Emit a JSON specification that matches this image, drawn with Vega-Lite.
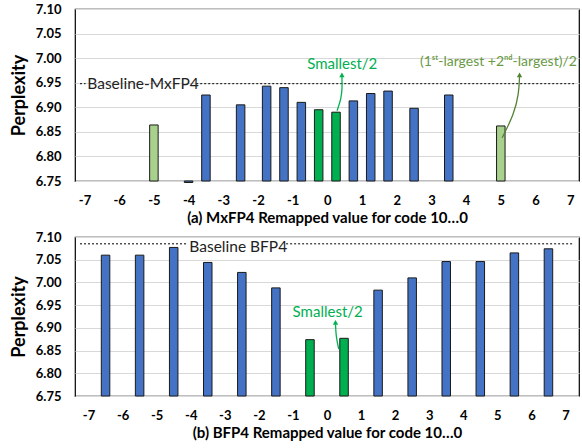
{
  "$schema": "https://vega.github.io/schema/vega-lite/v6.json",
  "padding": {"left": 9, "top": 2, "right": 0, "bottom": 0},
  "spacing": 4,
  "config": {
    "font": "Lato",
    "view": {"stroke": "#000", "strokeWidth": 1.2},
    "axis": {"labelColor": "#000", "titleColor": "#000", "labelFontWeight": "bold", "titleFontWeight": "bold", "ticks": false, "domain": false, "gridColor": "#d9d9d9", "gridWidth": 1.2, "labelOverlap": false, "labelBound": false, "labelFlush": false, "tickCount": 30}
  },
  "vconcat": [
    {
      "width": 504,
      "height": 172,
      "layer": [
        {
          "data": {"values": [
            {"x": -5, "ppl": 6.864, "kind": "light"},
            {"x": -4, "ppl": 6.747, "kind": "blue"},
            {"x": -3.5, "ppl": 6.925, "kind": "blue"},
            {"x": -2.5, "ppl": 6.905, "kind": "blue"},
            {"x": -1.75, "ppl": 6.943, "kind": "blue"},
            {"x": -1.25, "ppl": 6.940, "kind": "blue"},
            {"x": -0.75, "ppl": 6.910, "kind": "blue"},
            {"x": -0.25, "ppl": 6.895, "kind": "green"},
            {"x": 0.25, "ppl": 6.890, "kind": "green"},
            {"x": 0.75, "ppl": 6.913, "kind": "blue"},
            {"x": 1.25, "ppl": 6.928, "kind": "blue"},
            {"x": 1.75, "ppl": 6.933, "kind": "blue"},
            {"x": 2.5, "ppl": 6.898, "kind": "blue"},
            {"x": 3.5, "ppl": 6.925, "kind": "blue"},
            {"x": 5, "ppl": 6.862, "kind": "light"}
          ]},
          "mark": {"type": "bar", "size": 8.5, "stroke": "#1a1a1a", "strokeWidth": 1},
          "encoding": {
            "x": {"field": "x", "type": "quantitative", "scale": {"domain": [-7.13, 7.11], "nice": false, "zero": false},
                  "axis": {"values": [-7,-6,-5,-4,-3,-2,-1,0,1,2,3,4,5,6,7], "tickCount": 30, "labelOverlap": false, "labelExpr": "toString(datum.value)", "grid": false, "labelFontSize": 13, "labelPadding": 13, "title": "(a) MxFP4 Remapped value for code 10…0", "titleFontSize": 15, "titlePadding": 3}},
            "y": {"field": "ppl", "type": "quantitative", "scale": {"domain": [6.75, 7.1], "nice": false, "zero": false},
                  "axis": {"values": [6.75,6.8,6.85,6.9,6.95,7.0,7.05,7.1], "tickCount": 30, "labelOverlap": false, "format": ".2f", "grid": true, "labelFontSize": 13, "labelPadding": 14, "title": "Perplexity", "titleFontSize": 18, "titlePadding": 7}},
            "y2": {"datum": 6.75},
            "color": {"field": "kind", "type": "nominal", "scale": {"domain": ["blue", "green", "light"], "range": ["#4472C4", "#00B050", "#A9D18E"]}, "legend": null}
          }
        },
        {
          "data": {"values": [{"x": -7.13, "x2": -6.97, "ppl": 6.948}, {"x": -3.78, "x2": 7.11, "ppl": 6.948}]},
          "mark": {"type": "rule", "strokeDash": [2, 2], "color": "#000", "strokeWidth": 1},
          "encoding": {"x": {"field": "x", "type": "quantitative"}, "x2": {"field": "x2"}, "y": {"field": "ppl", "type": "quantitative"}}
        },
        {
          "data": {"values": [{"x": -6.92, "ppl": 6.948, "t": "Baseline-MxFP4"}]},
          "mark": {"type": "text", "align": "left", "baseline": "middle", "fontSize": 15.5, "color": "#222"},
          "encoding": {"x": {"field": "x", "type": "quantitative"}, "y": {"field": "ppl", "type": "quantitative"}, "text": {"field": "t"}}
        },
        {
          "data": {"values": [{"x": 0.43, "ppl": 6.988, "t": "Smallest/2"}]},
          "mark": {"type": "text", "align": "center", "baseline": "middle", "fontSize": 15, "color": "#00B050"},
          "encoding": {"x": {"field": "x", "type": "quantitative"}, "y": {"field": "ppl", "type": "quantitative"}, "text": {"field": "t"}}
        },
        {
          "data": {"values": [{"x": 4.93, "ppl": 6.992, "t": "(1ˢᵗ-largest +2ⁿᵈ-largest)/2"}]},
          "mark": {"type": "text", "align": "center", "baseline": "middle", "fontSize": 14, "color": "#6A9A45"},
          "encoding": {"x": {"field": "x", "type": "quantitative"}, "y": {"field": "ppl", "type": "quantitative"}, "text": {"field": "t"}}
        },
        {
          "data": {"values": [
            {"i": 1, "x": 0.28, "ppl": 6.893},
            {"i": 2, "x": 0.40, "ppl": 6.917},
            {"i": 3, "x": 0.43, "ppl": 6.941},
            {"i": 4, "x": 0.42, "ppl": 6.963}
          ]},
          "mark": {"type": "line", "interpolate": "basis", "color": "#00B050", "strokeWidth": 1.3},
          "encoding": {"x": {"field": "x", "type": "quantitative"}, "y": {"field": "ppl", "type": "quantitative"}, "order": {"field": "i"}}
        },
        {
          "data": {"values": [
            {"i": 1, "x": 5.04, "ppl": 6.838},
            {"i": 2, "x": 5.38, "ppl": 6.886},
            {"i": 3, "x": 5.52, "ppl": 6.927},
            {"i": 4, "x": 5.54, "ppl": 6.963}
          ]},
          "mark": {"type": "line", "interpolate": "basis", "color": "#548235", "strokeWidth": 1.3},
          "encoding": {"x": {"field": "x", "type": "quantitative"}, "y": {"field": "ppl", "type": "quantitative"}, "order": {"field": "i"}}
        },
        {
          "data": {"values": [{"x": 0.42, "ppl": 6.966}]},
          "mark": {"type": "point", "shape": "triangle-up", "filled": true, "size": 28, "color": "#00B050", "opacity": 1},
          "encoding": {"x": {"field": "x", "type": "quantitative"}, "y": {"field": "ppl", "type": "quantitative"}}
        },
        {
          "data": {"values": [{"x": 5.54, "ppl": 6.966}]},
          "mark": {"type": "point", "shape": "triangle-up", "filled": true, "size": 28, "color": "#548235", "opacity": 1},
          "encoding": {"x": {"field": "x", "type": "quantitative"}, "y": {"field": "ppl", "type": "quantitative"}}
        }
      ]
    },
    {
      "width": 504,
      "height": 159,
      "layer": [
        {
          "data": {"values": [
            {"x": -6.5, "ppl": 7.060, "kind": "blue"},
            {"x": -5.5, "ppl": 7.060, "kind": "blue"},
            {"x": -4.5, "ppl": 7.077, "kind": "blue"},
            {"x": -3.5, "ppl": 7.044, "kind": "blue"},
            {"x": -2.5, "ppl": 7.022, "kind": "blue"},
            {"x": -1.5, "ppl": 6.988, "kind": "blue"},
            {"x": -0.5, "ppl": 6.874, "kind": "green"},
            {"x": 0.5, "ppl": 6.877, "kind": "green"},
            {"x": 1.5, "ppl": 6.983, "kind": "blue"},
            {"x": 2.5, "ppl": 7.010, "kind": "blue"},
            {"x": 3.5, "ppl": 7.046, "kind": "blue"},
            {"x": 4.5, "ppl": 7.046, "kind": "blue"},
            {"x": 5.5, "ppl": 7.065, "kind": "blue"},
            {"x": 6.5, "ppl": 7.074, "kind": "blue"}
          ]},
          "mark": {"type": "bar", "size": 8.5, "stroke": "#1a1a1a", "strokeWidth": 1},
          "encoding": {
            "x": {"field": "x", "type": "quantitative", "scale": {"domain": [-7.25, 7.25], "nice": false, "zero": false},
                  "axis": {"values": [-7,-6,-5,-4,-3,-2,-1,0,1,2,3,4,5,6,7], "tickCount": 30, "labelOverlap": false, "labelExpr": "toString(datum.value)", "grid": false, "labelFontSize": 13, "labelPadding": 13, "title": "(b) BFP4 Remapped value for code 10…0", "titleFontSize": 15, "titlePadding": 3}},
            "y": {"field": "ppl", "type": "quantitative", "scale": {"domain": [6.75, 7.1], "nice": false, "zero": false},
                  "axis": {"values": [6.75,6.8,6.85,6.9,6.95,7.0,7.05,7.1], "tickCount": 30, "labelOverlap": false, "format": ".2f", "grid": true, "labelFontSize": 13, "labelPadding": 14, "title": "Perplexity", "titleFontSize": 18, "titlePadding": 7}},
            "y2": {"datum": 6.75},
            "color": {"field": "kind", "type": "nominal", "scale": {"domain": ["blue", "green", "light"], "range": ["#4472C4", "#00B050", "#A9D18E"]}, "legend": null}
          }
        },
        {
          "data": {"values": [{"x": -7.25, "x2": -4.1, "ppl": 7.085}, {"x": -1.2, "x2": 7.25, "ppl": 7.085}]},
          "mark": {"type": "rule", "strokeDash": [2, 2], "color": "#000", "strokeWidth": 1},
          "encoding": {"x": {"field": "x", "type": "quantitative"}, "x2": {"field": "x2"}, "y": {"field": "ppl", "type": "quantitative"}}
        },
        {
          "data": {"values": [{"x": -4.04, "ppl": 7.077, "t": "Baseline BFP4"}]},
          "mark": {"type": "text", "align": "left", "baseline": "middle", "fontSize": 15.5, "color": "#222"},
          "encoding": {"x": {"field": "x", "type": "quantitative"}, "y": {"field": "ppl", "type": "quantitative"}, "text": {"field": "t"}}
        },
        {
          "data": {"values": [{"x": 0.02, "ppl": 6.936, "t": "Smallest/2"}]},
          "mark": {"type": "text", "align": "center", "baseline": "middle", "fontSize": 15, "color": "#00B050"},
          "encoding": {"x": {"field": "x", "type": "quantitative"}, "y": {"field": "ppl", "type": "quantitative"}, "text": {"field": "t"}}
        },
        {
          "data": {"values": [
            {"i": 1, "x": 0.345, "ppl": 6.853},
            {"i": 2, "x": 0.265, "ppl": 6.881},
            {"i": 3, "x": 0.25, "ppl": 6.908}
          ]},
          "mark": {"type": "line", "interpolate": "basis", "color": "#00B050", "strokeWidth": 1.3},
          "encoding": {"x": {"field": "x", "type": "quantitative"}, "y": {"field": "ppl", "type": "quantitative"}, "order": {"field": "i"}}
        },
        {
          "data": {"values": [{"x": 0.25, "ppl": 6.912}]},
          "mark": {"type": "point", "shape": "triangle-up", "filled": true, "size": 28, "color": "#00B050", "opacity": 1},
          "encoding": {"x": {"field": "x", "type": "quantitative"}, "y": {"field": "ppl", "type": "quantitative"}}
        }
      ]
    }
  ]
}
